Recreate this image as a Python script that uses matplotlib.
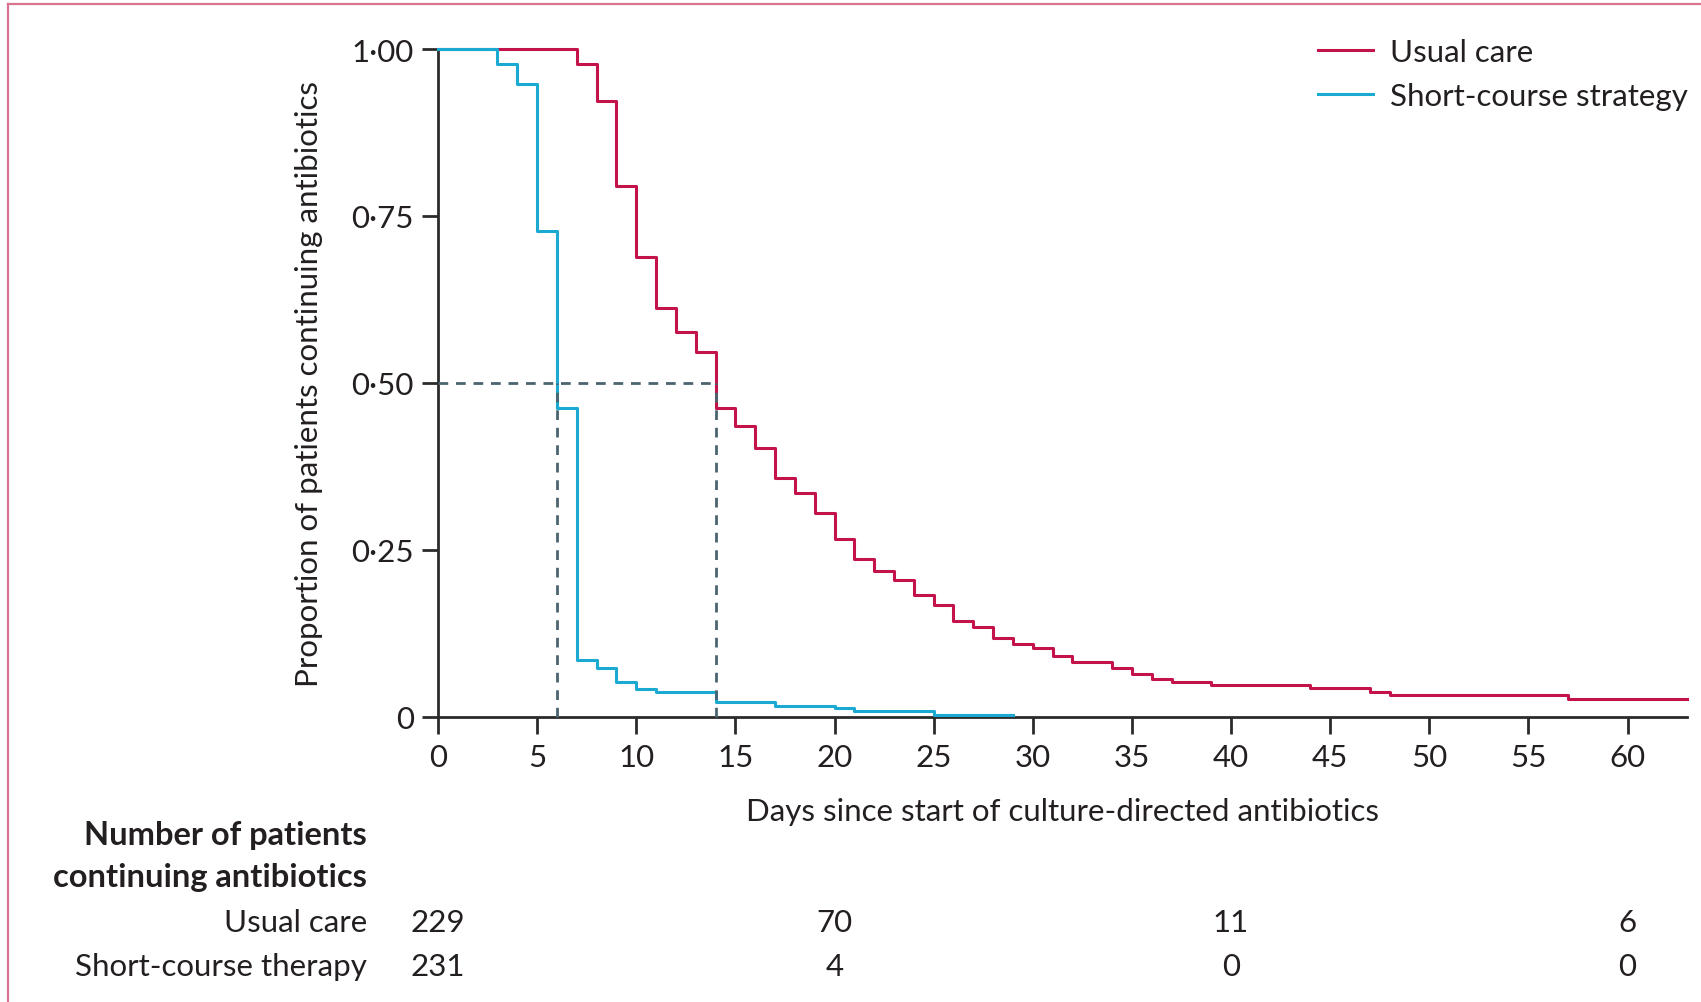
import matplotlib
matplotlib.use("Agg")
import matplotlib.pyplot as plt
import matplotlib.transforms as mtransforms
from matplotlib.lines import Line2D

plt.rcParams['font.family'] = ['Lato', 'DejaVu Sans']

# Kaplan-Meier style step data: day of each step and proportion still on antibiotics
usual_days = [0, 7, 8, 9, 10, 11, 12, 13, 14, 15, 16, 17, 18, 19, 20, 21, 22, 23, 24,
              25, 26, 27, 28, 29, 30, 31, 32, 34, 35, 36, 37, 39, 44, 47, 48, 57, 63]
usual_prop = [1.0, 0.978, 0.922, 0.795, 0.689, 0.612, 0.576, 0.546, 0.462, 0.436, 0.402,
              0.358, 0.335, 0.305, 0.266, 0.236, 0.218, 0.205, 0.183, 0.167, 0.143, 0.135,
              0.118, 0.109, 0.104, 0.091, 0.083, 0.073, 0.065, 0.057, 0.052, 0.048, 0.043,
              0.038, 0.033, 0.027, 0.027]

short_days = [0, 3, 4, 5, 6, 7, 8, 9, 10, 11, 14, 17, 20, 21, 25, 29]
short_prop = [1.0, 0.978, 0.948, 0.727, 0.462, 0.086, 0.073, 0.052, 0.042, 0.038, 0.022,
              0.017, 0.013, 0.0085, 0.0035, 0.0035]

# Median durations (days) per group
median_short = 6
median_usual = 14

# Number-at-risk table
risk_days = [0, 20, 40, 60]
risk_usual = [229, 70, 11, 6]
risk_short = [231, 4, 0, 0]

x_ticks = [0, 5, 10, 15, 20, 25, 30, 35, 40, 45, 50, 55, 60]
y_ticks = [0, 0.25, 0.5, 0.75, 1.0]
y_ticklabels = ["0", "0·25", "0·50", "0·75", "1·00"]

RED = "#c3134a"
BLUE = "#19a9d1"
DASH = "#4b6470"
TXT = "#231f20"
AXC = "#2b2b2b"
FS = 22.5

fig = plt.figure(figsize=(17.01, 10.03), dpi=100)
ax = fig.add_axes([438 / 1701, 1 - 718 / 1003, (1687 - 438) / 1701, (718 - 50) / 1003])

l_usual, = ax.step(usual_days, usual_prop, where="post", color=RED, lw=2.2, clip_on=False,
                   label="Usual care", zorder=3)
l_short, = ax.step(short_days, short_prop, where="post", color=BLUE, lw=2.2, clip_on=False,
                   label="Short-course strategy", zorder=3)

# Median guide lines
dash_kw = dict(color=DASH, lw=2.0, dashes=(3.5, 2.8), zorder=4, clip_on=False)
ax.plot([0, median_usual], [0.5, 0.5], **dash_kw)
ax.plot([median_short, median_short], [0, 0.5], **dash_kw)
ax.plot([median_usual, median_usual], [0, 0.5], **dash_kw)

ax.set_xlim(0, 63)
ax.set_ylim(0, 1)
ax.set_xticks(x_ticks)
ax.set_yticks(y_ticks)
ax.set_yticklabels(y_ticklabels)
for s in ["top", "right"]:
    ax.spines[s].set_visible(False)
for s in ["left", "bottom"]:
    ax.spines[s].set_color(AXC)
    ax.spines[s].set_linewidth(2.0)
ax.tick_params(axis="y", length=11.5, width=2.0, color=AXC, labelsize=FS, labelcolor=TXT, pad=6)
ax.tick_params(axis="x", length=12.5, width=2.0, color=AXC, labelsize=FS, labelcolor=TXT, pad=6)

ax.set_xlabel("Days since start of culture-directed antibiotics", fontsize=FS, color=TXT,
              labelpad=19)
ax.set_ylabel("Proportion of patients continuing antibiotics", fontsize=FS, color=TXT,
              labelpad=20)

leg = fig.legend(handles=[l_usual, l_short], loc="upper right",
                 bbox_to_anchor=(1688 / 1701, 1 - 39 / 1003), frameon=False, fontsize=FS,
                 handlelength=1.75, handletextpad=0.55, labelspacing=0.52, borderaxespad=0,
                 borderpad=0)
for t in leg.get_texts():
    t.set_color(TXT)

# Number-at-risk table below the axes
def fig_y(py):
    return 1 - py / 1003

fig.text(367 / 1701, fig_y(836), "Number of patients", ha="right", va="center",
         fontsize=23.5, fontweight="bold", color=TXT)
fig.text(367 / 1701, fig_y(878), "continuing antibiotics", ha="right", va="center",
         fontsize=23.5, fontweight="bold", color=TXT)
fig.text(367 / 1701, fig_y(923), "Usual care", ha="right", va="center", fontsize=FS, color=TXT)
fig.text(367 / 1701, fig_y(967), "Short-course therapy", ha="right", va="center", fontsize=FS,
         color=TXT)

blend = mtransforms.blended_transform_factory(ax.transData, fig.transFigure)
for d, nu, ns in zip(risk_days, risk_usual, risk_short):
    ax.text(d, fig_y(923), str(nu), transform=blend, ha="center", va="center",
            fontsize=FS, color=TXT, clip_on=False)
    ax.text(d, fig_y(967), str(ns), transform=blend, ha="center", va="center",
            fontsize=FS, color=TXT, clip_on=False)

# Pink panel frame along the top and left edges
frame_c = "#d9738f"
fig.add_artist(Line2D([8 / 1701, 1.0], [fig_y(5), fig_y(5)], color=frame_c, lw=1.6,
                      transform=fig.transFigure))
fig.add_artist(Line2D([8 / 1701, 8 / 1701], [fig_y(5), 0.0], color=frame_c, lw=1.6,
                      transform=fig.transFigure))

fig.savefig("out.png", dpi=100, facecolor="white")
